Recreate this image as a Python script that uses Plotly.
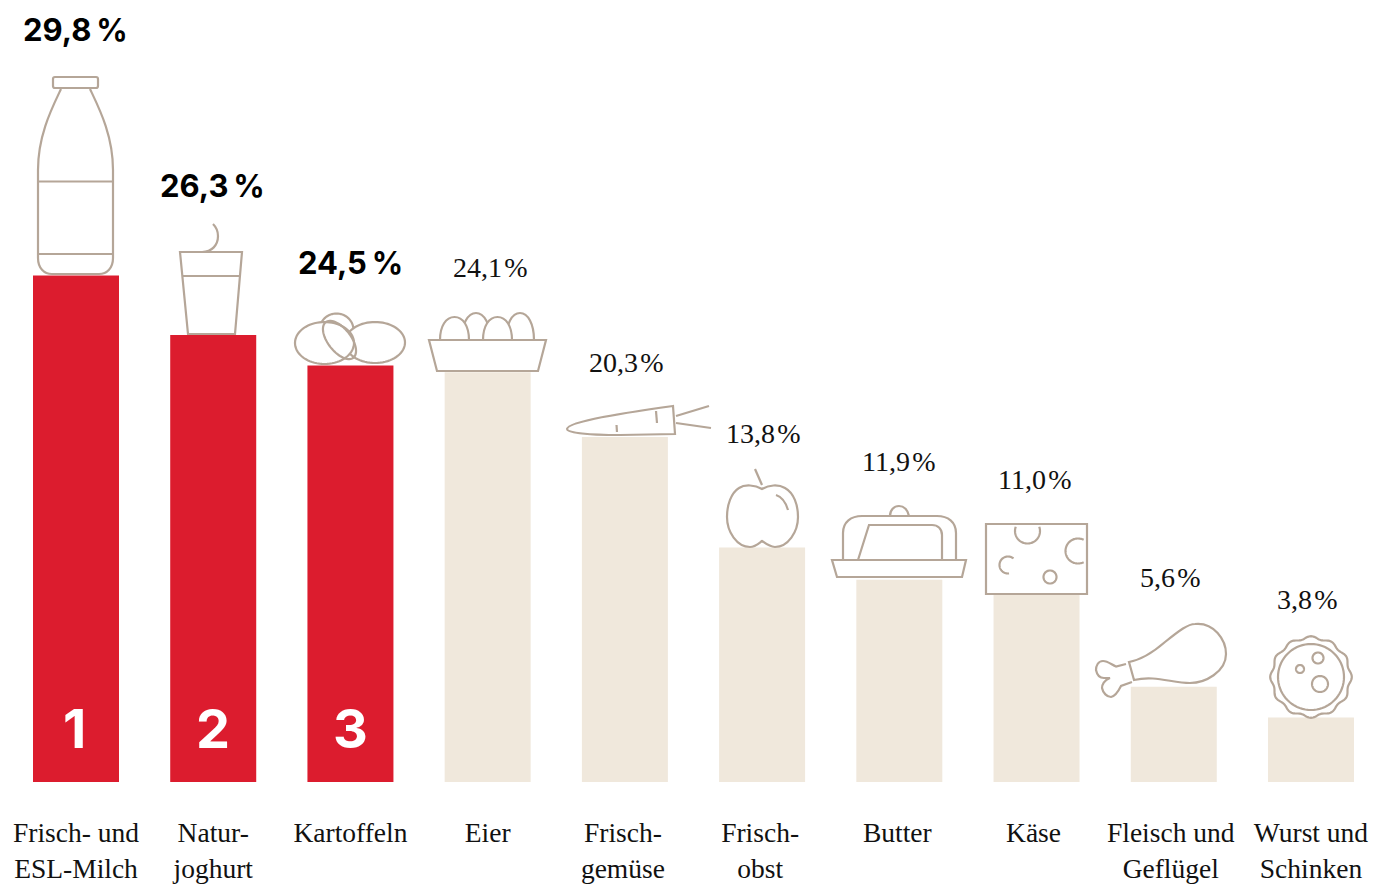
import math
import re
import plotly.graph_objects as go

# ---------- data ----------
categories = ["Frisch- und<br>ESL-Milch", "Natur-<br>joghurt", "Kartoffeln", "Eier", "Frisch-<br>gemüse",
              "Frisch-<br>obst", "Butter", "Käse", "Fleisch und<br>Geflügel", "Wurst und<br>Schinken"]
values = [29.8, 26.3, 24.5, 24.1, 20.3, 13.8, 11.9, 11.0, 5.6, 3.8]
value_labels = ["29,8 %", "26,3 %", "24,5 %", "24,1 %", "20,3 %", "13,8 %", "11,9 %", "11,0 %", "5,6 %", "3,8 %"]
ranks = ["1", "2", "3"]

# ---------- style ----------
W, H = 1391, 885
BASE_PX, PX_PER_UNIT = 782, 17.0
FIRST_PX, STEP_PX = 76.0, 137.22
RED, BEIGE, LINE = "#dc1c2e", "#f0e8dc", "#b5a698"
SERIF = "Liberation Serif"
SANS = "Inter"
label_dx = [-1, -1, 0, 3, 2, 1, 0, -2, -3, -3]
label_dy = [246, 149, 103, 105, 74, 114, 118, 116, 109, 118]
tick_dx = [0, 0, 0, 0, -2, -2, -2, -3, -3, 0]

xs = list(range(len(values)))


def ox(i):
    return FIRST_PX + STEP_PX * i


def oy(i):
    return BASE_PX - PX_PER_UNIT * values[i]


def arc(cx, cy, rx, ry, a0=0, a1=360, rot=0, n=72, close=False):
    pts = []
    r = math.radians(rot)
    for k in range(n + 1):
        a = math.radians(a0 + (a1 - a0) * k / n)
        x, y = rx * math.cos(a), ry * math.sin(a)
        pts.append((cx + x * math.cos(r) - y * math.sin(r), cy + x * math.sin(r) + y * math.cos(r)))
    return "M" + " L".join(f"{x:.2f} {y:.2f}" for x, y in pts) + (" Z" if close else "")


def circle(cx, cy, r):
    return arc(cx, cy, r, r, close=True)


def wavy(cx, cy, r, amp, bumps, n=240):
    pts = []
    for k in range(n):
        a = 2 * math.pi * k / n
        rr = r + amp * math.cos(bumps * (a + math.pi / 2))
        pts.append((cx + rr * math.cos(a), cy + rr * math.sin(a)))
    return "M" + " L".join(f"{x:.2f} {y:.2f}" for x, y in pts) + " Z"


shapes = []


def icon(i, d, fill=False):
    """d is drawn in picture pixels; it is anchored on the top centre of bar i."""
    cx, cy = ox(i), oy(i)
    idx = [0]

    def conv(m):
        v = float(m.group(0))
        is_x = idx[0] % 2 == 0
        idx[0] += 1
        return f"{v - cx:.2f}" if is_x else f"{cy - v:.2f}"

    path = re.sub(r"-?\d+(?:\.\d+)?", conv, d)
    path = re.sub(r"(-?\d+(?:\.\d+)?) (-?\d+(?:\.\d+)?)", r"\1,\2", path)
    shapes.append(dict(type="path", path=path, xref="x", yref="y", xsizemode="pixel", ysizemode="pixel",
                       xanchor=xs[i], yanchor=values[i], layer="above",
                       line=dict(color=LINE, width=2.2),
                       fillcolor="#ffffff" if fill else "rgba(0,0,0,0)"))


# bottle
icon(0, "M61 89 C52 108 38 135 38 170 L38 258 C38 268 44 274 52 274 L99 274 C107 274 113 268 113 258 L113 170 C113 135 99 108 90 89")
icon(0, "M55 77 L96 77 C97.5 77 98 78 98 79 L98 86 C98 87.5 97 88 96 88 L55 88 C54 88 53 87.5 53 86 L53 79 C53 78 54 77 55 77 Z")
icon(0, "M38 181.5 L113 181.5")
icon(0, "M38 254 L113 254")
# glass
icon(1, "M180 252 L242 252 L235 334 L188 334 Z")
icon(1, "M183 276 L239.5 276")
icon(1, "M202 252 C212 252 218 245 218 236 C218 231 216 227 213 224")
# potatoes
icon(2, arc(336.5, 330, 17, 16.5, close=True), True)
icon(2, arc(375, 342.5, 30, 20.5, close=True), True)
icon(2, arc(324.5, 343, 29.5, 21, close=True), True)
icon(2, arc(339.5, 340, 22.5, 11.5, rot=52, close=True))
# eggs in a basket
icon(3, "M461.5 340 C461.5 324 468 313 476 313 C484 313 490.5 324 490.5 340 Z", True)
icon(3, "M506 340 C506 324 512 313 520 313 C528 313 534 324 534 340 Z", True)
icon(3, "M440 340 C440 326 446 317 454.5 317 C463 317 469 326 469 340 Z", True)
icon(3, "M483 340 C483 326 489 317 497.5 317 C506 317 512 326 512 340 Z", True)
icon(3, "M429 340 L546 340 L538 371 L437 371 Z", True)
# carrot
icon(4, "M673 406 C630 412 568 421 567 429 C567 433 590 435 620 435 L675 434 Z")
icon(4, "M616.5 425 L617 432")
icon(4, "M656 411 L657 423")
icon(4, "M676 416 L709 406")
icon(4, "M676 423 L711 428")
# apple
icon(5, "M762 489 C755 485 745 484 739 488 C731 493 727 505 727 517 C727 532 737 547 750 547 C755 547 758 544 762 541 C766 544 770 547 775 547 C788 547 798 532 798 517 C798 505 794 493 785 488 C778 484 769 485 762 489 Z")
icon(5, "M755 469 L762 485")
icon(5, "M776 495 C782 497 786 503 788 510")
# butter dish
icon(6, "M843 560 L843 533 C843 522 851 516 862 516 L937 516 C948 516 956 522 956 533 L956 560")
icon(6, "M890 516 C890 510 894 506 899 506 C904 506 908 510 909 516")
icon(6, "M858 560 L869 525 L932 525 C938 525 942 529 942 535 L942 560")
icon(6, "M832 560 L966 560 L962 577 L837 577 Z")
# cheese
icon(7, "M986 524 L1087 524 L1087 594 L986 594 Z")
icon(7, arc(1027.5, 531, 12.5, 12.5, -20, 200))
icon(7, arc(1078, 551, 12.5, 12.5, 297, 63))
icon(7, arc(1008, 565, 8.5, 8.5, 310, 83))
icon(7, circle(1050, 577, 6.5))
# chicken leg
icon(8, "M1129 662 C1140 660 1150 655 1165 642 C1180 630 1188 624 1195 624 C1214 622 1226 640 1226 654 C1226 672 1205 683 1190 683 C1172 683 1155 675 1134 680 Z")
icon(8, "M1126 664 L1116 666.5 C1112 665 1108 661 1103 661 C1098 661 1096 666 1096 670 C1097 675 1100 678 1104 678 L1110 678 C1104 680 1102 685 1102 688 C1103 693 1107 697 1111 697 C1116 696 1119 690 1121 686 L1132 682")
# sausage slice
icon(9, wavy(1311, 677, 39.5, 1.3, 12))
icon(9, circle(1311, 677, 33))
icon(9, circle(1318, 658, 5.5))
icon(9, circle(1300, 669, 4))
icon(9, circle(1320, 684, 8))

# ---------- figure ----------
fig = go.Figure(go.Bar(x=xs, y=values, width=86 / STEP_PX,
                       marker=dict(color=[RED if k < len(ranks) else BEIGE for k in xs], line_width=0),
                       hoverinfo="skip"))

annotations = []
for k, txt in enumerate(value_labels):
    top = k < len(ranks)
    annotations.append(dict(x=xs[k], y=values[k], xref="x", yref="y",
                            text=f"<b>{txt.replace(' ', chr(0x2009))}</b>" if top else txt.replace(" ", "\u200a"),
                            showarrow=False, xanchor="center", yanchor="middle", xshift=label_dx[k], yshift=label_dy[k],
                            font=dict(family=SANS if top else SERIF, size=31 if top else 28, color="#000000" if top else "#111111")))
for k, txt in enumerate(ranks):
    annotations.append(dict(x=xs[k], y=0, xref="x", yref="y", text=f"<b>{txt}</b>", showarrow=False,
                            xanchor="center", yanchor="middle", yshift=54, xshift=-2 if k == 0 else 0,
                            font=dict(family=SANS, size=54, color="#ffffff")))

fig.update_layout(
    width=W, height=H, margin=dict(l=0, r=0, t=0, b=H - BASE_PX, pad=0, autoexpand=False),
    paper_bgcolor="#ffffff", plot_bgcolor="#ffffff", showlegend=False,
    shapes=shapes, annotations=annotations,
    font=dict(family=SERIF, color="#111111"),
    xaxis=dict(range=[-FIRST_PX / STEP_PX, (W - FIRST_PX) / STEP_PX], showgrid=False, zeroline=False, showline=False,
               automargin=False, tickmode="array", tickvals=[k + tick_dx[k] / STEP_PX for k in xs], ticktext=categories,
               ticks="outside", ticklen=26, tickcolor="rgba(0,0,0,0)", tickangle=0,
               tickfont=dict(family=SERIF, size=27.5, color="#111111")),
    yaxis=dict(range=[0, BASE_PX / PX_PER_UNIT], visible=False, automargin=False),
)

fig.write_html("out.html", config=dict(displayModeBar=False),
               post_script="document.body.style.margin='0';document.documentElement.style.overflow='hidden';")
